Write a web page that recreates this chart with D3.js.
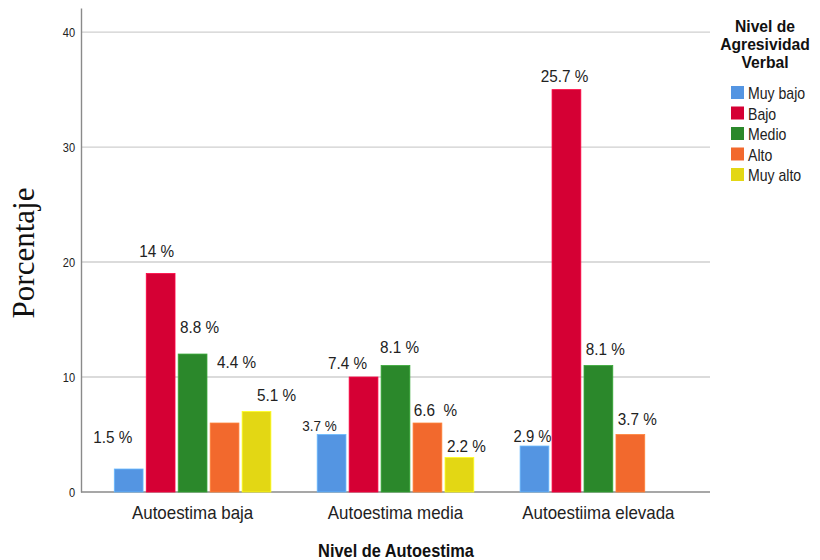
<!DOCTYPE html>
<html>
<head>
<meta charset="utf-8">
<script src="https://cdn.jsdelivr.net/npm/d3@7"></script>
<style>
  html, body { margin: 0; padding: 0; background: #ffffff; }
  svg { display: block; }
  text { white-space: pre; }
</style>
</head>
<body>
<svg id="chart" width="820" height="560"></svg>
<script>
// ---------- data ----------
const categories = ["Autoestima baja", "Autoestima media", "Autoestiima elevada"];
const seriesNames = ["Muy bajo", "Bajo", "Medio", "Alto", "Muy alto"];
const muyBajo = [2, 5, 4];
const bajo = [19, 10, 35];
const medio = [12, 11, 11];
const alto = [6, 6, 5];
const muyAlto = [7, 3, null];
const muyBajoLabels = ["1.5 %", "3.7 %", "2.9 %"];
const bajoLabels = ["14 %", "7.4 %", "25.7 %"];
const medioLabels = ["8.8 %", "8.1 %", "8.1 %"];
const altoLabels = ["4.4 %", "6.6  %", "3.7 %"];
const muyAltoLabels = ["5.1 %", "2.2 %", null];
const yTicks = [0, 10, 20, 30, 40];
const yMax = 42.1;

// ---------- style / layout ----------
const colors = ["#5495e2", "#d50034", "#2b882b", "#f2692d", "#e3d714"];
// label nudges (dx, dy above the bar top), per series, per category
const labelNudge = [
  [[-16, 26], [-12, 4], [-2, 4]],
  [[-4, 17], [-16, 8], [-2, 8]],
  [[7, 21], [4, 13], [7, 11]],
  [[12, 55], [8, 7], [7, 10]],
  [[20, 11], [7, 6], [0, 0]]
];
const labelSize = [
  [17, 15, 16.5], [17, 17, 17], [17, 17, 17], [17, 17, 17], [17, 17, 17]
];

const seriesValues = [muyBajo, bajo, medio, alto, muyAlto];
const seriesLabels = [muyBajoLabels, bajoLabels, medioLabels, altoLabels, muyAltoLabels];

const svg = d3.select("#chart");
svg.append("rect").attr("width", 820).attr("height", 560).attr("fill", "#fff");

const pLeft = 81, pRight = 710, pTop = 8, pBottom = 492;

const x0 = d3.scaleBand().domain(categories).range([pLeft, pRight])
  .paddingInner(0).paddingOuter(0.05);
const x1 = d3.scaleBand().domain(seriesNames).range([-78.3, 78.3])
  .paddingInner(0.1).paddingOuter(0);
const y = d3.scaleLinear().domain([0, yMax]).range([pBottom, pTop]);

const font = "'Liberation Sans', Arial, sans-serif";
const ink = "#222";

// gridlines
svg.append("g").selectAll("line")
  .data(yTicks.filter(t => t > 0))
  .join("line")
  .attr("x1", pLeft).attr("x2", pRight)
  .attr("y1", d => y(d)).attr("y2", d => y(d))
  .attr("stroke", "#cfcfcf").attr("stroke-width", 1.4);

// y axis
const yAxis = svg.append("g")
  .attr("transform", `translate(${pLeft},0)`)
  .call(d3.axisLeft(y).tickValues(yTicks).tickSize(0).tickSizeOuter(0).tickPadding(7)
    .tickFormat(d3.format("d")));
yAxis.select(".domain").attr("stroke", "#8a8a8a").attr("stroke-width", 1.4);
yAxis.selectAll(".tick text")
  .attr("font-family", font).attr("font-size", 13).attr("fill", ink)
  .attr("dy", "0.35em")
  .attr("transform", "scale(0.85,1)");

// x axis
const xAxis = svg.append("g")
  .attr("transform", `translate(0,${pBottom})`)
  .call(d3.axisBottom(x0).tickSize(0).tickSizeOuter(0));
xAxis.select(".domain").attr("stroke", "#8a8a8a").attr("stroke-width", 1.4)
  .attr("d", `M${pLeft},0H${pRight}`);
xAxis.selectAll(".tick text")
  .attr("font-family", font).attr("font-size", 18).attr("fill", ink)
  .attr("y", 27).attr("dy", 0)
  .attr("transform", "scale(0.94,1)");

// bars
const groups = svg.append("g").selectAll("g")
  .data(categories)
  .join("g")
  .attr("transform", d => `translate(${x0(d) + x0.bandwidth() / 2},0)`);

seriesNames.forEach((s, si) => {
  const vals = seriesValues[si];
  groups.each(function (cat, ci) {
    const v = vals[ci];
    if (v == null) return;
    const g = d3.select(this);
    const bx = x1(s);
    g.append("rect")
      .attr("x", bx)
      .attr("y", y(v))
      .attr("width", x1.bandwidth())
      .attr("height", y(0) - y(v))
      .attr("fill", colors[si])
      .attr("stroke", d3.color(colors[si]).brighter(0.6))
      .attr("stroke-width", 0.8);
    const lbl = seriesLabels[si][ci];
    if (lbl) {
      const [dx, dy] = labelNudge[si][ci];
      const cx = bx + x1.bandwidth() / 2 + dx;
      const ty = y(v) - dy;
      g.append("text")
        .attr("transform", `translate(${cx},${ty}) scale(0.9,1)`)
        .attr("text-anchor", "middle")
        .attr("font-family", font)
        .attr("font-size", labelSize[si][ci])
        .attr("fill", ink)
        .text(lbl);
    }
  });
});

// y title
svg.append("text")
  .attr("transform", "translate(33.5,253) rotate(-90)")
  .attr("text-anchor", "middle")
  .attr("font-family", "'Liberation Serif', 'Times New Roman', serif")
  .attr("font-size", 31)
  .attr("fill", "#111")
  .text("Porcentaje");

// x title
svg.append("text")
  .attr("transform", "translate(396,557) scale(0.91,1)")
  .attr("text-anchor", "middle")
  .attr("font-family", font)
  .attr("font-weight", "bold")
  .attr("font-size", 18)
  .attr("fill", "#111")
  .text("Nivel de Autoestima");

// legend
const legendTitle = ["Nivel de", "Agresividad", "Verbal"];
svg.append("g").selectAll("text")
  .data(legendTitle)
  .join("text")
  .attr("transform", (d, i) => `translate(765,${31.5 + i * 18.4}) scale(0.98,1)`)
  .attr("text-anchor", "middle")
  .attr("font-family", font)
  .attr("font-weight", "bold")
  .attr("font-size", 16)
  .attr("fill", "#111")
  .text(d => d);

const legend = svg.append("g").selectAll("g")
  .data(seriesNames)
  .join("g")
  .attr("transform", (d, i) => `translate(731,${86 + i * 20.5})`);
legend.append("rect")
  .attr("width", 13).attr("height", 13)
  .attr("fill", (d, i) => colors[i]);
legend.append("text")
  .attr("transform", "translate(17,13) scale(0.88,1)")
  .attr("font-family", font)
  .attr("font-size", 16)
  .attr("fill", ink)
  .text(d => d);
</script>
</body>
</html>
